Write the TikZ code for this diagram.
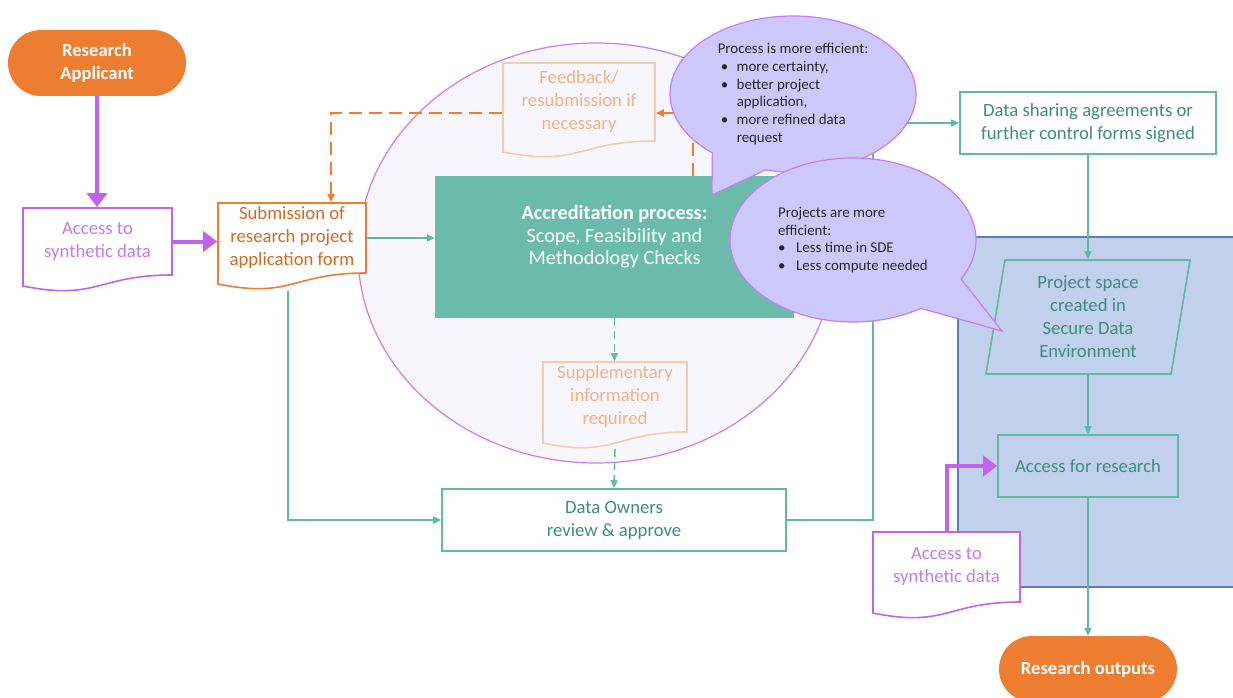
\documentclass[tikz,border=0pt]{standalone}
\usepackage{fontspec}
\setmainfont{Carlito}
\usetikzlibrary{arrows.meta,shapes.geometric,shapes.callouts,calc}

\definecolor{orng}{HTML}{ED7D31}
\definecolor{orngtxt}{HTML}{CF6A24}
\definecolor{peach}{HTML}{F8CBAD}
\definecolor{peachtxt}{HTML}{F4B183}
\definecolor{purp}{HTML}{C462F0}
\definecolor{purptxt}{HTML}{C47BEF}
\definecolor{lilac}{HTML}{C77DF3}
\definecolor{lilacfill}{HTML}{F8F6FD}
\definecolor{bubblefill}{HTML}{CCC9FA}
\definecolor{teal1}{HTML}{5EB9A5}
\definecolor{tealbox}{HTML}{6BBBAA}
\definecolor{tealtxt}{HTML}{3E8C7E}
\definecolor{sdefill}{HTML}{C1D0EB}
\definecolor{sdeline}{HTML}{5B7EB6}

% bullet for the callout lists
\newcommand{\blt}[1][15pt]{\makebox[#1][l]{\textbullet}}
% document shape: name, left, top, width, height (flat part), style, text
\newcommand{\docnode}[7]{%
  \draw[#6] (#2,#3) -- (#2+#4,#3) -- (#2+#4,#3+#5)
    .. controls (#2+#4/2,#3+#5) and (#2+#4/2,#3+#5+26) .. (#2,#3+#5+11) -- cycle;
  \node[doctxt, #6, draw=none, fill=none, minimum width=#4pt, minimum height=#5pt]
    (#1) at (#2+#4/2,#3+#5/2) {#7};}

\begin{document}
\begin{tikzpicture}[x=1pt, y=-1pt, font=\fontsize{18.7}{23}\selectfont,
  pill/.style={rounded corners=33pt, fill=orng, text=white, align=center,
    font=\fontsize{18.6}{23}\selectfont\bfseries, minimum width=178pt, minimum height=66pt},
  doctxt/.style={align=center, inner sep=0pt},
  docpurp/.style={draw=purp, line width=1.6pt, fill=white, text=purptxt},
  docorng/.style={draw=orng, line width=1.6pt, fill=white, text=orngtxt},
  docpeach/.style={draw=peach, line width=1.6pt, text=peachtxt},
  tealnode/.style={draw=teal1, line width=1.6pt, text=tealtxt, align=center, inner sep=0pt},
  flow/.style={draw=teal1, line width=1.5pt, -{Triangle[length=8pt,width=7pt]}},
  flowdash/.style={flow, dash pattern=on 8pt off 5pt},
  fbline/.style={draw=orng, line width=1.8pt, dash pattern=on 13pt off 7pt,
    -{Triangle[length=8pt,width=7pt]}},
  synth/.style={draw=purp, line width=4pt, -{Triangle[length=14pt,width=20pt]}},
  bubble/.style={ellipse callout, fill=bubblefill, draw=lilac, line width=1.2pt,
    callout pointer arc=28, inner sep=0pt, align=left, text=black!85,
    font=\fontsize{14.9}{17.7}\selectfont}]

  \path[use as bounding box, fill=white] (0,0) rectangle (1233,698);

  % backgrounds
  \draw[lilac, fill=lilacfill, line width=1.2pt] (596,253) ellipse [x radius=238pt, y radius=210pt];
  \fill[sdefill] (958,237) rectangle (1233,587);
  \draw[sdeline, line width=1.2pt] (1233,237) -- (958,237) -- (958,587) -- (1233,587);

  % nodes
  \node[pill] (app) at (97,63) {Research\\Applicant};
  \docnode{accL}{23}{208}{149}{67}{docpurp}{Access to\\synthetic data}
  \docnode{sub}{218}{203}{148}{70}{docorng}{Submission of\\research project\\application form}
  \node[fill=tealbox, minimum width=359pt, minimum height=142pt, inner sep=0pt] (acc) at (614.5,247) {};
  \node[text=white, align=center, font=\fontsize{20.2}{22.5}\selectfont] (acctxt) at (614.5,237)
    {\textbf{Accreditation process:}\\Scope, Feasibility and\\Methodology Checks};
  \docnode{fb}{503}{63}{152}{78}{docpeach}{Feedback/\\resubmission if\\necessary}
  \docnode{sup}{543}{362}{144}{70}{docpeach}{Supplementary\\information\\required}
  \node[tealnode, minimum width=344pt, minimum height=62pt] (own) at (614,520) {Data Owners\\review \& approve};
  \node[tealnode, minimum width=256pt, minimum height=62pt] (dsa) at (1088,123)
    {Data sharing agreements or\\further control forms signed};
  \node[tealnode, trapezium, trapezium left angle=77, trapezium right angle=103,
    trapezium stretches body, minimum width=204pt, minimum height=114pt] (proj) at (1088,317)
    {Project space\\created in\\Secure Data\\Environment};
  \node[tealnode, minimum width=180pt, minimum height=62pt] (ares) at (1088,466) {Access for research};
  \docnode{accR}{873}{532}{147}{70}{docpurp}{Access to\\synthetic data}
  \node[pill] (out) at (1088,669) {Research outputs};

  % connectors
  \draw[synth] (app.south) -- (app.south |- accL.north);
  \draw[synth] (accL.east) -- (accL.east -| sub.west);
  \draw[flow] (sub.east) -- (sub.east -| acc.west);
  \draw[flow] ([xshift=-4pt,yshift=-17pt]sub.south) |- (own.west);
  \draw[flowdash] (acc.south) -- (acc.south |- sup.north);
  \draw[flowdash] ([yshift=-16pt]sup.south) -- (own.north);
  \coordinate (riser) at (873,300);
  \draw[flow] (own.east) -| (riser) |- (dsa.west);
  \draw[fbline] ([xshift=-101pt]acc.north east) |- ([yshift=-11pt]fb.east);
  \draw[fbline] ([yshift=-11pt]fb.west) -| ([xshift=39pt]sub.north);
  \draw[flow] (dsa.south) -- (dsa.south |- proj.north);
  \draw[flow] (proj.south) -- (proj.south |- ares.north);
  \draw[flow] (ares.south) -- (out.north);
  \draw[synth] (accR.north) |- (ares.west);

  % callouts
  \node[bubble, minimum width=246pt, minimum height=156pt,
    callout absolute pointer={(712,195)}] (note1) at (793,94)
    {Process is more efficient:\\
     \hspace*{3pt}\blt[16pt]more certainty,\\
     \hspace*{3pt}\blt[16pt]better project\\
     \hspace*{19pt}application,\\
     \hspace*{3pt}\blt[16pt]more refined data\\
     \hspace*{19pt}request};
  \node[bubble, minimum width=246pt, minimum height=164pt,
    callout absolute pointer={(1002,331)}] (note2) at (853,240)
    {Projects are more\\
     efficient:\\
     \blt[18pt]Less time in SDE\\
     \blt[18pt]Less compute needed};
\end{tikzpicture}
\end{document}
